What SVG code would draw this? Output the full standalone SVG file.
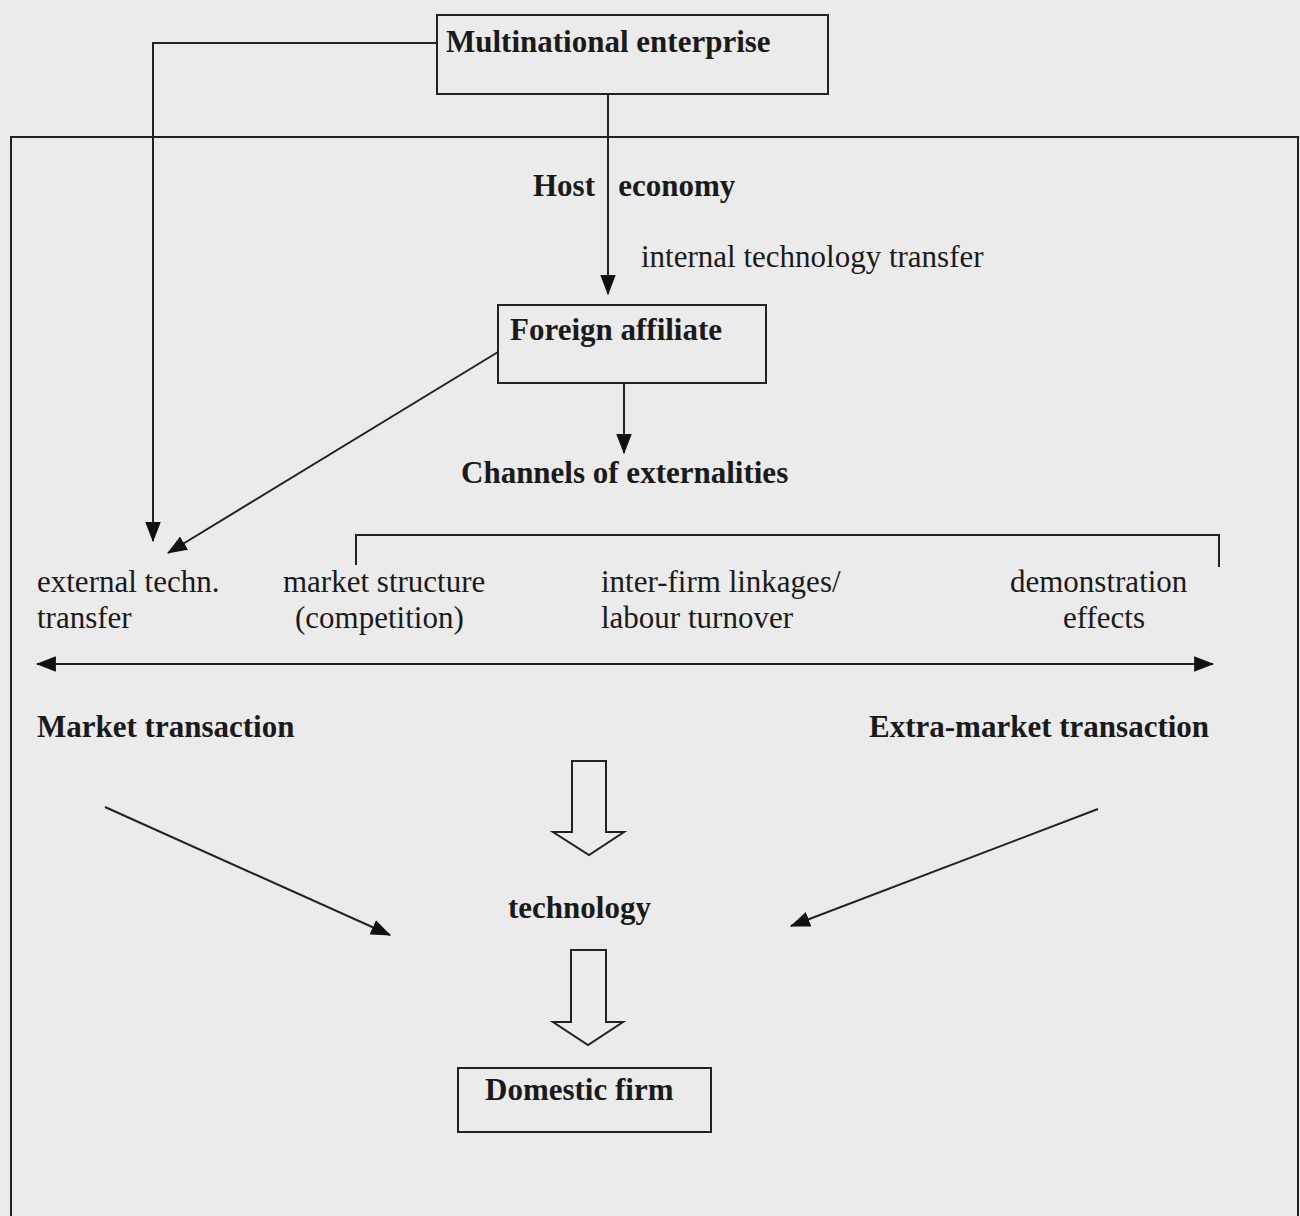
<svg xmlns="http://www.w3.org/2000/svg" width="1300" height="1216" viewBox="0 0 1300 1216">
<style>
.b{font-family:"Liberation Serif","Times New Roman",serif;font-weight:bold;font-size:31px;fill:#1a1a1a}
.r{font-family:"Liberation Serif","Times New Roman",serif;font-size:31px;fill:#1a1a1a}
.box{fill:none;stroke:#222;stroke-width:2}
.ln{fill:none;stroke:#222;stroke-width:2}
.hollow{fill:#ececec;stroke:#222;stroke-width:2;stroke-linejoin:miter}
</style>
<defs>
<marker id="ah" markerUnits="userSpaceOnUse" markerWidth="20" markerHeight="16" refX="17" refY="7" orient="auto-start-reverse" viewBox="0 0 18 14">
<path d="M0,0 L18,7 L0,14 Z" fill="#111"/>
</marker>
</defs>
<rect x="0" y="0" width="1300" height="1216" fill="#ebebeb"/>
<g id="host-economy">
<path class="ln" d="M11,1216 L11,137 L1298,137 L1298,1216"/>
<text class="b" x="533" y="196" xml:space="preserve">Host   economy</text>
</g>
<g id="connectors">
<path class="ln" d="M608,94 L608,294" marker-end="url(#ah)"/>
<path class="ln" d="M437,43 L153,43 L153,541" marker-end="url(#ah)"/>
<path class="ln" d="M624,383 L624,453" marker-end="url(#ah)"/>
<path class="ln" d="M498,352 L168,553" marker-end="url(#ah)"/>
<path class="ln" d="M356,565 L356,535 L1219,535 L1219,567"/>
<path class="ln" d="M37,664 L1213,664" marker-start="url(#ah)" marker-end="url(#ah)"/>
<path class="ln" d="M105,807 L390,935" marker-end="url(#ah)"/>
<path class="ln" d="M1098,809 L791,926" marker-end="url(#ah)"/>
<path class="hollow" d="M572,761 L606,761 L606,832 L624,832 L589,855 L553,832 L572,832 Z"/>
<path class="hollow" d="M571,950 L606,950 L606,1022 L623,1022 L588,1045 L553,1022 L571,1022 Z"/>
</g>
<g id="multinational-enterprise">
<rect class="box" x="437" y="15" width="391" height="79"/>
<text class="b" x="446" y="52">Multinational enterprise</text>
</g>
<g id="internal-transfer-label">
<text class="r" x="641" y="267">internal technology transfer</text>
</g>
<g id="foreign-affiliate">
<rect class="box" x="498" y="305" width="268" height="78"/>
<text class="b" x="510" y="340">Foreign affiliate</text>
</g>
<g id="channels">
<text class="b" x="461" y="483">Channels of externalities</text>
</g>
<g id="external-techn">
<text class="r" x="37" y="592">external techn.</text>
<text class="r" x="37" y="628">transfer</text>
</g>
<g id="market-structure">
<text class="r" x="283" y="592">market structure</text>
<text class="r" x="295" y="628">(competition)</text>
</g>
<g id="inter-firm">
<text class="r" x="601" y="592">inter-firm linkages/</text>
<text class="r" x="601" y="628">labour turnover</text>
</g>
<g id="demonstration">
<text class="r" x="1010" y="592">demonstration</text>
<text class="r" x="1063" y="628">effects</text>
</g>
<g id="market-transaction">
<text class="b" x="37" y="737">Market transaction</text>
</g>
<g id="extra-market-transaction">
<text class="b" x="869" y="737">Extra-market transaction</text>
</g>
<g id="technology">
<text class="b" x="508" y="918">technology</text>
</g>
<g id="domestic-firm">
<rect class="box" x="458" y="1068" width="253" height="64"/>
<text class="b" x="485" y="1100">Domestic firm</text>
</g>
</svg>
